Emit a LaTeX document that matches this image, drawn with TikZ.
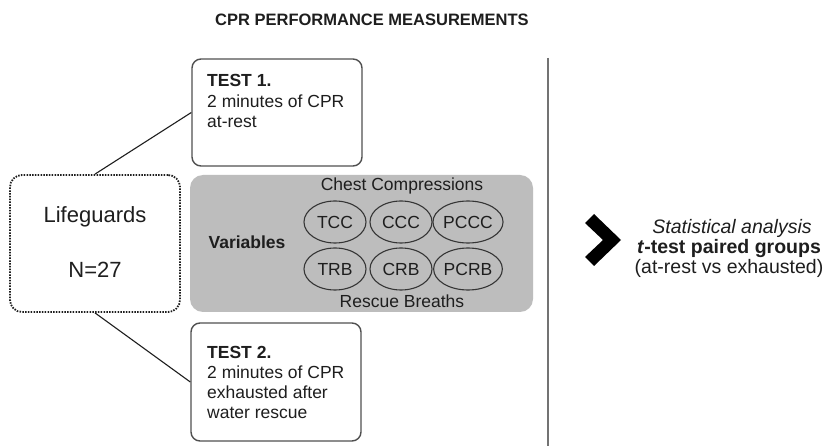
\documentclass[tikz,border=0pt]{standalone}
\usepackage{fontspec}
\setmainfont{Liberation Sans}
\usetikzlibrary{shapes.geometric}
\definecolor{panelgray}{HTML}{BDBDBD}
\definecolor{ink}{HTML}{1E1E1E}
\definecolor{boxline}{HTML}{505050}
\begin{document}
\begin{tikzpicture}[x=1pt,y=-1pt,
  txt/.style={font=\fontsize{17.5}{21}\selectfont, inner sep=0pt, text=ink},
  bigtxt/.style={font=\fontsize{22}{26}\selectfont, inner sep=0pt, text=ink},
  rtxt/.style={font=\fontsize{19.5}{23}\selectfont, inner sep=0pt, text=ink},
  testbox/.style={draw=boxline, line width=1.4pt, rounded corners=9pt, minimum width=170pt, inner sep=0pt},
  dotbox/.style={draw=ink, line width=1.8pt, dash pattern=on 1.5pt off 1.3pt, rounded corners=12pt, minimum width=170pt, minimum height=137pt, inner sep=0pt},
  panel/.style={fill=panelgray, rounded corners=13pt, minimum width=343pt, minimum height=137pt, inner sep=0pt},
  varell/.style={ellipse, draw=ink!90, line width=1.1pt, minimum width=62pt, minimum height=42pt, inner sep=0pt,
     font=\fontsize{17.5}{21}\selectfont, text=ink, text height=12.5pt, text depth=0pt},
  link/.style={draw=ink, line width=1.1pt}
]
\useasboundingbox (0,0) rectangle (828,446);
\fill[white] (0,0) rectangle (828,446);

% title
\node[font=\fontsize{16.5}{20}\selectfont\bfseries, inner sep=0pt, text=ink, anchor=base] (title) at (372,26) {CPR PERFORMANCE MEASUREMENTS};

% boxes
\node[testbox, minimum height=107pt] (test1) at (277,112.5) {};
\node[testbox, minimum height=118pt] (test2) at (276,382) {};
\node[dotbox] (lifeg) at (95,243.5) {};
\node[panel] (var) at (361.5,243.5) {};

% test texts
\node[txt, anchor=base west, font=\fontsize{17.5}{21}\selectfont\bfseries] (t1a) at (207,87) {TEST 1.};
\node[txt, anchor=base west] (t1b) at (207,108) {2 minutes of CPR};
\node[txt, anchor=base west] (t1c) at (207,128) {at-rest};

\node[txt, anchor=base west, font=\fontsize{17.5}{21}\selectfont\bfseries] (t2a) at (207,359) {TEST 2.};
\node[txt, anchor=base west] (t2b) at (207,379) {2 minutes of CPR};
\node[txt, anchor=base west] (t2c) at (207,399) {exhausted after};
\node[txt, anchor=base west] (t2d) at (207,419) {water rescue};

% lifeguards
\node[bigtxt, anchor=base] (lg1) at (95,223) {Lifeguards};
\node[bigtxt, anchor=base] (lg2) at (95,278) {N=27};

% variables panel
\node[txt, anchor=base] (cc) at (402,191) {Chest Compressions};
\node[txt, anchor=base] (rb) at (402,308) {Rescue Breaths};
\node[txt, anchor=base, font=\fontsize{17.5}{21}\selectfont\bfseries] (vlab) at (247,249) {Variables};
\node[varell] (tcc) at (335,222) {TCC};
\node[varell] (ccc) at (401,222) {CCC};
\node[varell] (pccc) at (468,222) {PCCC};
\node[varell] (trb) at (335,269) {TRB};
\node[varell] (crb) at (401,269) {CRB};
\node[varell] (pcrb) at (468,269) {PCRB};

% connectors
\draw[link] (lifeg.north) -- (test1.west);
\draw[link] (lifeg.south) -- (test2.west);

% divider
\coordinate (vtop) at (548,58);
\coordinate (vbot) at (548,446);
\draw[draw=black!55, line width=2pt] (vtop) -- (vbot);

% chevron
\fill[black] (594,214) -- (621,240) -- (594,266) -- (585,257) -- (603,240) -- (585,223) -- cycle;

% statistics text
\node[rtxt, anchor=base, font=\fontsize{19.5}{23}\selectfont\itshape] (s1) at (732,234) {Statistical analysis};
\node[rtxt, anchor=base, font=\fontsize{19.5}{23}\selectfont\bfseries] (s2) at (729,254) {\textit{t}-test paired groups};
\node[rtxt, anchor=base] (s3) at (729,274) {(at-rest vs exhausted)};
\end{tikzpicture}
\end{document}
